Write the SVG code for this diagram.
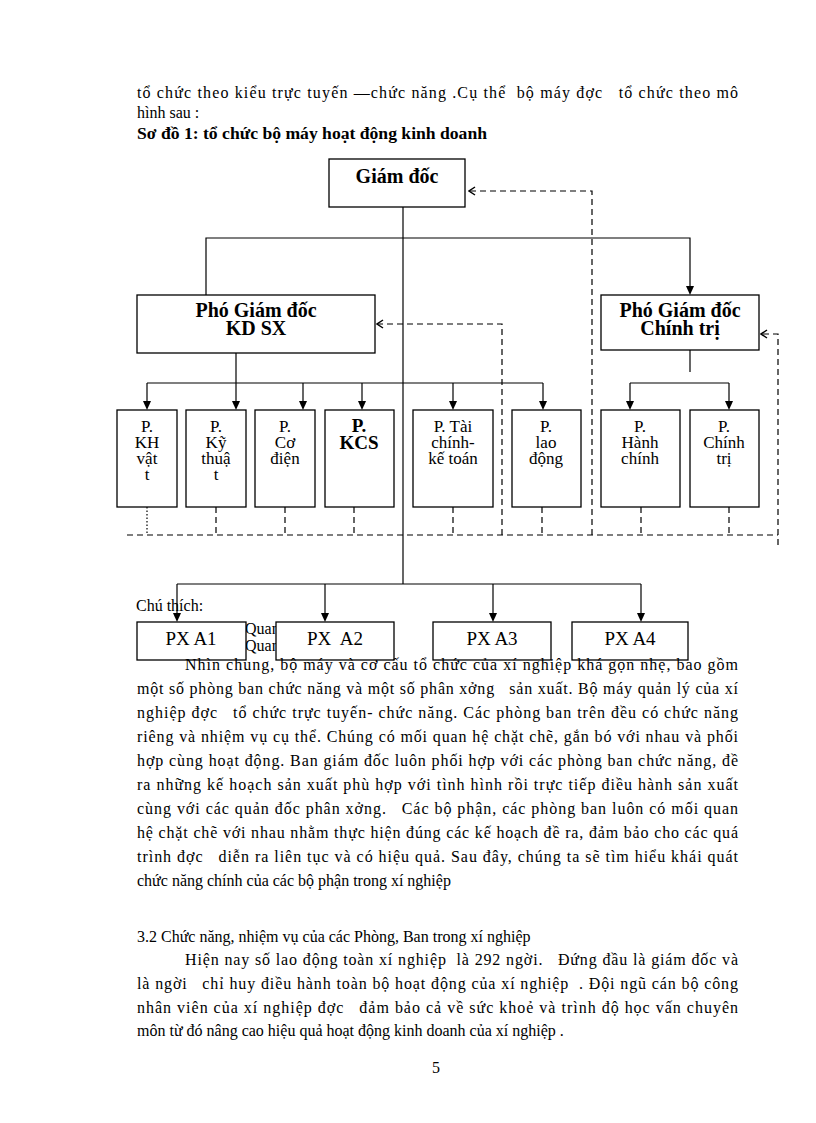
<svg xmlns="http://www.w3.org/2000/svg" width="816" height="1123" viewBox="0 0 816 1123" xml:space="preserve">
<style>
  .t{font-family:"Liberation Serif","Times New Roman",serif;font-size:16px;fill:#000;white-space:pre}
  .b{font-weight:bold}
  .c{text-anchor:middle}
  .t.bx{font-size:17px}
  .t.k{font-size:19px;font-weight:bold}
  .t.px{font-size:19px}
  .t.h{font-size:20px;font-weight:bold}
  .box{fill:#fff;stroke:#000;stroke-width:1.3}
  .ln{fill:none;stroke:#000;stroke-width:1.2}
  .ds{fill:none;stroke:#000;stroke-width:1.2;stroke-dasharray:6,4}
  .dt{fill:none;stroke:#000;stroke-width:1.2;stroke-dasharray:1.5,2}
</style>
<defs>
  <marker id="ch" markerWidth="10" markerHeight="10" refX="9" refY="5" orient="auto" markerUnits="userSpaceOnUse" viewBox="0 0 10 10">
    <path d="M3,1 L9,5 L3,9" fill="none" stroke="#000" stroke-width="1.5"/>
  </marker>
</defs>
<rect width="816" height="1123" fill="#fff"/>

<g id="top-text">
  <text class="t" x="137" y="98" textLength="601" lengthAdjust="spacing">tổ chức theo kiểu trực tuyến —chức năng .Cụ thể  bộ máy đợc   tổ chức theo mô</text>
  <text class="t" x="137" y="118">hình sau :</text>
  <text class="t b" x="137" y="139" textLength="350" lengthAdjust="spacingAndGlyphs">Sơ đồ 1: tổ chức bộ máy hoạt động kinh doanh</text>
</g>

<g id="legend">
  <text class="t" x="136" y="611">Chú thích:</text>
  <text class="t" x="245" y="634">Quan</text>
  <text class="t" x="245" y="651">Quan</text>
</g>

<g id="connectors">
  <line class="ln" x1="403" y1="207" x2="403" y2="584"/>
  <polyline class="ln" points="206,295 206,238 690,238 690,287"/>
  <path d="M686,286 L694,286 L690,295 Z" fill="#000"/>
  <line class="ln" x1="236" y1="353" x2="236" y2="383"/>
  <line class="ln" x1="147" y1="383" x2="543" y2="383"/>
  <line class="ln" x1="690" y1="350" x2="690" y2="372"/>
  <line class="ln" x1="630" y1="383" x2="729" y2="383"/>
  <line class="ln" x1="177" y1="584" x2="641" y2="584"/>
  <g id="down-arrows" class="ln">
    <line x1="147" y1="383" x2="147" y2="402"/>
    <line x1="236" y1="383" x2="236" y2="402"/>
    <line x1="303" y1="383" x2="303" y2="402"/>
    <line x1="362" y1="383" x2="362" y2="402"/>
    <line x1="453" y1="383" x2="453" y2="402"/>
    <line x1="543" y1="383" x2="543" y2="402"/>
    <line x1="630" y1="383" x2="630" y2="402"/>
    <line x1="729" y1="383" x2="729" y2="402"/>
    <line x1="177" y1="584" x2="177" y2="614"/>
    <line x1="325" y1="584" x2="325" y2="614"/>
    <line x1="493" y1="584" x2="493" y2="614"/>
    <line x1="641" y1="584" x2="641" y2="614"/>
  </g>
  <g id="heads" fill="#000">
    <path d="M143,401 L151,401 L147,410 Z"/>
    <path d="M232,401 L240,401 L236,410 Z"/>
    <path d="M299,401 L307,401 L303,410 Z"/>
    <path d="M358,401 L366,401 L362,410 Z"/>
    <path d="M449,401 L457,401 L453,410 Z"/>
    <path d="M539,401 L547,401 L543,410 Z"/>
    <path d="M626,401 L634,401 L630,410 Z"/>
    <path d="M725,401 L733,401 L729,410 Z"/>
    <path d="M173,613 L181,613 L177,622 Z"/>
    <path d="M321,613 L329,613 L325,622 Z"/>
    <path d="M489,613 L497,613 L493,622 Z"/>
    <path d="M637,613 L645,613 L641,622 Z"/>
  </g>
  <polyline class="ds" points="592,535 592,191 469,191" marker-end="url(#ch)"/>
  <polyline class="ds" points="502,535 502,324 377,324" marker-end="url(#ch)"/>
  <polyline class="ds" points="778,545 778,334 761,334" marker-end="url(#ch)"/>
  <line class="ds" x1="127" y1="535" x2="778" y2="535"/>
  <line class="dt" x1="147" y1="507" x2="147" y2="535"/>
  <g class="ds">
    <line x1="216" y1="507" x2="216" y2="535"/>
    <line x1="285" y1="507" x2="285" y2="535"/>
    <line x1="354" y1="507" x2="354" y2="535"/>
    <line x1="453" y1="507" x2="453" y2="535"/>
    <line x1="542" y1="507" x2="542" y2="535"/>
    <line x1="641" y1="507" x2="641" y2="535"/>
    <line x1="729" y1="507" x2="729" y2="535"/>
  </g>
</g>

<g id="giam-doc">
  <rect class="box" x="329" y="159" width="136" height="48"/>
  <text class="t h c" x="397" y="183">Giám đốc</text>
</g>
<g id="pgd-kdsx">
  <rect class="box" x="137" y="295" width="238" height="58"/>
  <text class="t h c" x="256" y="317">Phó Giám đốc</text>
  <text class="t h c" x="256" y="335">KD SX</text>
</g>
<g id="pgd-ct">
  <rect class="box" x="601" y="295" width="158" height="55"/>
  <text class="t h c" x="680" y="317">Phó Giám đốc</text>
  <text class="t h c" x="680" y="335">Chính trị</text>
</g>

<g id="p-kh">
  <rect class="box" x="117" y="410" width="60" height="97"/>
  <text class="t bx c" x="147" y="432">P.</text>
  <text class="t bx c" x="147" y="448">KH</text>
  <text class="t bx c" x="147" y="464">vật</text>
  <text class="t bx c" x="147" y="480">t</text>
</g>
<g id="p-kythuat">
  <rect class="box" x="186" y="410" width="60" height="97"/>
  <text class="t bx c" x="216" y="432">P.</text>
  <text class="t bx c" x="216" y="448">Kỹ</text>
  <text class="t bx c" x="216" y="464">thuậ</text>
  <text class="t bx c" x="216" y="480">t</text>
</g>
<g id="p-codien">
  <rect class="box" x="255" y="410" width="60" height="97"/>
  <text class="t bx c" x="285" y="432">P.</text>
  <text class="t bx c" x="285" y="448">Cơ</text>
  <text class="t bx c" x="285" y="464">điện</text>
</g>
<g id="p-kcs">
  <rect class="box" x="325" y="410" width="69" height="97"/>
  <text class="t k c" x="359" y="432">P.</text>
  <text class="t k c" x="359" y="449">KCS</text>
</g>
<g id="p-taichinh">
  <rect class="box" x="413" y="410" width="80" height="97"/>
  <text class="t bx c" x="453" y="432">P. Tài</text>
  <text class="t bx c" x="453" y="448">chính-</text>
  <text class="t bx c" x="453" y="464">kế toán</text>
</g>
<g id="p-laodong">
  <rect class="box" x="512" y="410" width="69" height="97"/>
  <text class="t bx c" x="546" y="432">P.</text>
  <text class="t bx c" x="546" y="448">lao</text>
  <text class="t bx c" x="546" y="464">động</text>
</g>
<g id="p-hanhchinh">
  <rect class="box" x="601" y="410" width="79" height="97"/>
  <text class="t bx c" x="640" y="432">P.</text>
  <text class="t bx c" x="640" y="448">Hành</text>
  <text class="t bx c" x="640" y="464">chính</text>
</g>
<g id="p-chinhtri">
  <rect class="box" x="690" y="410" width="69" height="97"/>
  <text class="t bx c" x="724" y="432">P.</text>
  <text class="t bx c" x="724" y="448">Chính</text>
  <text class="t bx c" x="724" y="464">trị</text>
</g>

<g id="px-a1">
  <rect class="box" x="137" y="622" width="109" height="38"/>
  <text class="t px c" x="191" y="645">PX A1</text>
</g>
<g id="px-a2">
  <rect class="box" x="276" y="622" width="118" height="38"/>
  <text class="t px c" x="335" y="645">PX  A2</text>
</g>
<g id="px-a3">
  <rect class="box" x="433" y="622" width="118" height="38"/>
  <text class="t px c" x="492" y="645">PX A3</text>
</g>
<g id="px-a4">
  <rect class="box" x="572" y="622" width="116" height="38"/>
  <text class="t px c" x="630" y="645">PX A4</text>
</g>

<g id="body-text">
  <text class="t" x="185" y="670" textLength="553" lengthAdjust="spacing">Nhìn chung, bộ máy và cơ cấu tổ chức của xí nghiệp khá gọn nhẹ, bao gồm</text>
  <text class="t" x="137" y="694" textLength="601" lengthAdjust="spacing">một số phòng ban chức năng và một số phân xởng   sản xuất. Bộ máy quản lý của xí</text>
  <text class="t" x="137" y="718" textLength="601" lengthAdjust="spacing">nghiệp đợc   tổ chức trực tuyến- chức năng. Các phòng ban trên đều có chức năng</text>
  <text class="t" x="137" y="742" textLength="601" lengthAdjust="spacing">riêng và nhiệm vụ cụ thể. Chúng có mối quan hệ chặt chẽ, gắn bó với nhau và phối</text>
  <text class="t" x="137" y="766" textLength="601" lengthAdjust="spacing">hợp cùng hoạt động. Ban giám đốc luôn phối hợp với các phòng ban chức năng, đề</text>
  <text class="t" x="137" y="790" textLength="601" lengthAdjust="spacing">ra những kế hoạch sản xuất phù hợp với tình hình rồi trực tiếp điều hành sản xuất</text>
  <text class="t" x="137" y="814" textLength="601" lengthAdjust="spacing">cùng với các quản đốc phân xởng.   Các bộ phận, các phòng ban luôn có mối quan</text>
  <text class="t" x="137" y="838" textLength="601" lengthAdjust="spacing">hệ chặt chẽ với nhau nhằm thực hiện đúng các kế hoạch đề ra, đảm bảo cho các quá</text>
  <text class="t" x="137" y="862" textLength="601" lengthAdjust="spacing">trình đợc   diễn ra liên tục và có hiệu quả. Sau đây, chúng ta sẽ tìm hiểu khái quát</text>
  <text class="t" x="137" y="886">chức năng chính của các bộ phận trong xí nghiệp</text>

  <text class="t" x="137" y="942">3.2 Chức năng, nhiệm vụ của các Phòng, Ban trong xí nghiệp</text>
  <text class="t" x="185" y="965" textLength="553" lengthAdjust="spacing">Hiện nay số lao động toàn xí nghiệp  là 292 ngời.   Đứng đầu là giám đốc và</text>
  <text class="t" x="137" y="989" textLength="601" lengthAdjust="spacing">là ngời   chỉ huy điều hành toàn bộ hoạt động của xí nghiệp  . Đội ngũ cán bộ công</text>
  <text class="t" x="137" y="1013" textLength="601" lengthAdjust="spacing">nhân viên của xí nghiệp đợc   đảm bảo cả về sức khoẻ và trình độ học vấn chuyên</text>
  <text class="t" x="137" y="1036">môn từ đó nâng cao hiệu quả hoạt động kinh doanh của xí nghiệp .</text>
  <text class="t c" x="436" y="1073">5</text>
</g>
</svg>
